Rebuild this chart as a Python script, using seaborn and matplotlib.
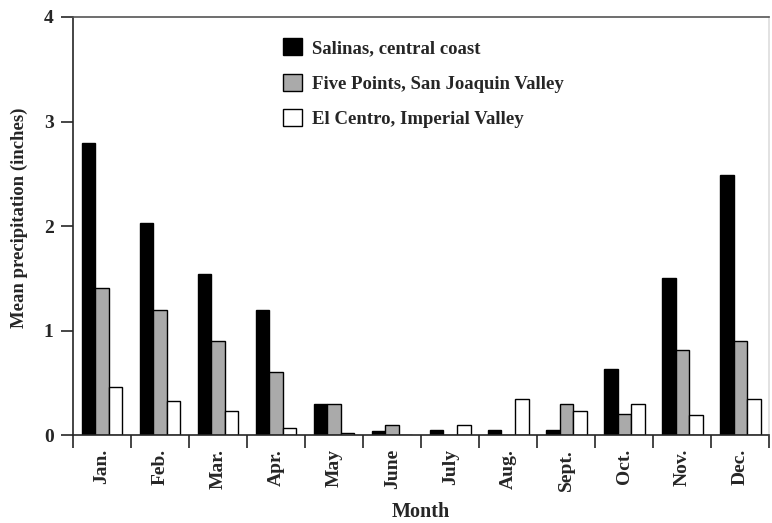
#!/usr/bin/env python3

import numpy as np
from matplotlib import pyplot as plt
from matplotlib.ticker import FixedLocator
import seaborn as sns
import pandas as pd


months = ["Jan.", "Feb.", "Mar.", "Apr.", "May", "June",
          "July", "Aug.", "Sept.", "Oct.", "Nov.", "Dec."]
salinas = [2.79, 2.03, 1.54, 1.20, 0.30, 0.04, 0.05, 0.05, 0.05, 0.63, 1.50, 2.49]
five_points = [1.41, 1.20, 0.90, 0.60, 0.30, 0.10, 0.0, 0.0, 0.30, 0.20, 0.81, 0.90]
el_centro = [0.46, 0.33, 0.23, 0.07, 0.02, 0.0, 0.10, 0.35, 0.23, 0.30, 0.19, 0.35]
stations = {
    "Salinas, central coast": salinas,
    "Five Points, San Joaquin Valley": five_points,
    "El Centro, Imperial Valley": el_centro,
}
colors = ["#000000", "#aaaaaa", "#ffffff"]

month_title = "Month"
precip_title = "Mean precipitation (inches)"
station_title = "Station"


def get_data_frame():
    data_dict = {month_title: [], precip_title: [], station_title: []}
    for station, values in stations.items():
        for month, value in zip(months, values):
            data_dict[month_title].append(month)
            data_dict[precip_title].append(value)
            data_dict[station_title].append(station)
    return pd.DataFrame(data_dict)


def gen_fig():
    df = get_data_frame()
    sns.set_theme(style="ticks")
    plt.rcParams["font.family"] = ["Liberation Serif", "DejaVu Serif"]
    plt.rcParams["font.weight"] = "bold"

    fig = plt.figure(figsize=(7.72, 5.23), dpi=100)
    ax = fig.add_axes([0.0946, 0.168, 0.902, 0.7995])
    sns.barplot(
        data=df, x=month_title, y=precip_title, hue=station_title,
        palette=colors, edgecolor="black", linewidth=1.0,
        width=0.7, saturation=1, ax=ax,
    )

    ax.set_xlim(-0.5, 11.5)
    ax.set_ylim(0, 4)
    ax.set_yticks([0, 1, 2, 3, 4])
    ax.set_yticklabels(["0", "1", "2", "3", "4"], fontsize=14, fontweight="bold")

    # month labels centred, tick marks at the group boundaries
    ax.tick_params(axis="x", which="major", length=0, pad=10)
    ax.xaxis.set_minor_locator(FixedLocator(np.arange(-0.5, 11.6, 1.0)))
    ax.tick_params(axis="x", which="minor", length=9, width=1.2, direction="out")
    ax.tick_params(axis="y", length=9, width=1.2, direction="out", pad=5)
    plt.setp(ax.get_xticklabels(), rotation=90, fontsize=14, fontweight="bold",
             va="top")

    ax.set_xlabel(month_title, fontsize=14.5, fontweight="bold", labelpad=8)
    ax.set_ylabel(precip_title, fontsize=13.5, fontweight="bold")
    ax.yaxis.set_label_coords(-0.064, 0.52)

    for side in ["left", "bottom", "top", "right"]:
        ax.spines[side].set_visible(True)
        ax.spines[side].set_linewidth(1.2)
    ax.spines["top"].set_color("#555555")
    ax.spines["right"].set_color("#dddddd")

    ax.legend(
        loc="upper left", bbox_to_anchor=(0.277, 0.99), frameon=False,
        prop={"weight": "bold", "size": 13.5}, handlelength=1.0, handleheight=1.0,
        labelspacing=0.9, handletextpad=0.55,
    )

    fig.savefig("out.png", dpi=100)


if __name__ == "__main__":
    gen_fig()
